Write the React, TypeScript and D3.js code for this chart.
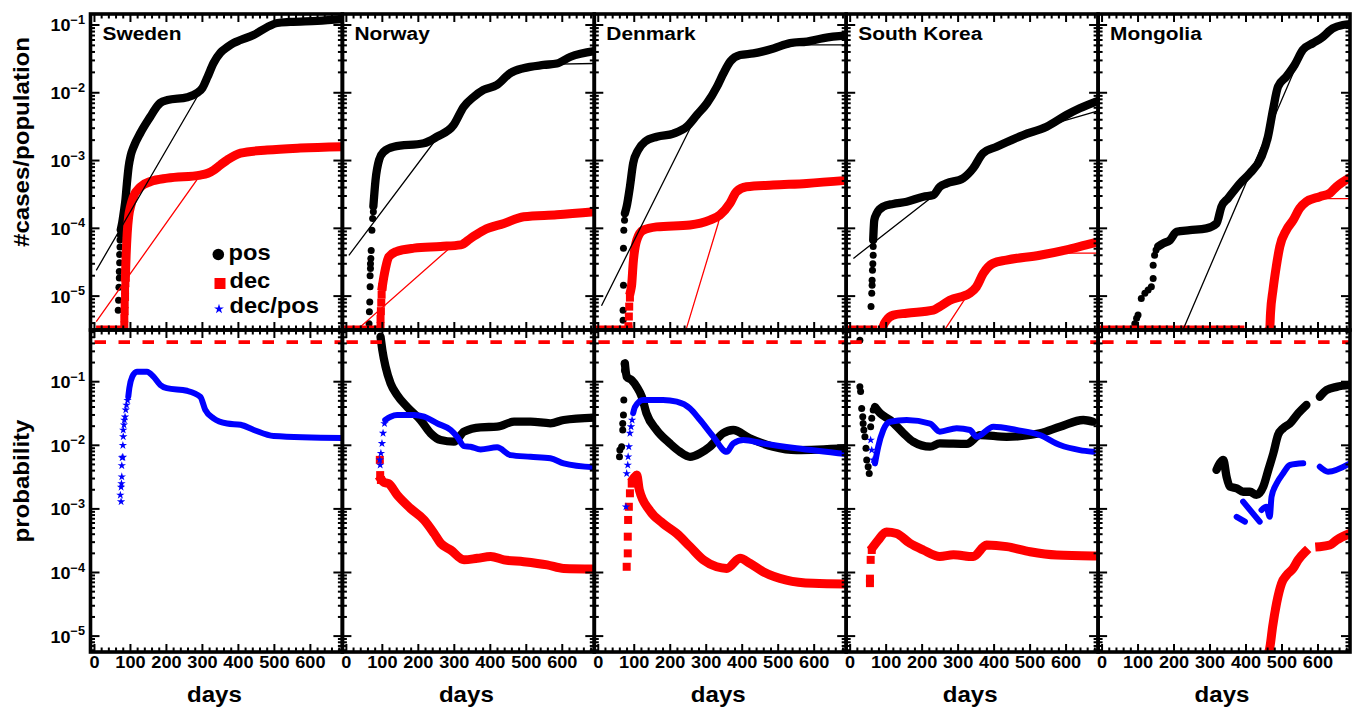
import React from 'react';
import * as d3 from 'd3';

type P = [number, number] | null;

// ---------------- labels / ticks ----------------
const countries = ['Sweden', 'Norway', 'Denmark', 'South Korea', 'Mongolia'];
const xTickValues = [0, 100, 200, 300, 400, 500, 600];
const yTopTickExps = [-1, -2, -3, -4, -5];
const yBotTickExps = [-1, -2, -3, -4, -5];
const legendLabels = ['pos', 'dec', 'dec/pos'];
const ratioLimit = 0.42;

// ---------------- Sweden ----------------
const swePosDots: P[] = [[66,6.2e-6],[67,8.7e-6],[68,1.35e-5],[69,1.85e-5],[69,2.3e-5],[70,3.1e-5],[70,4.1e-5],[71,5.3e-5],[71,6.7e-5],[72,8e-5]];
const swePosLine: P[] = [[73,9.5e-5],[77,1.2e-4],[82,1.8e-4],[86,2.6e-4],[90,4.5e-4],[95,8.1e-4],[101,1.2e-3],[109,1.6e-3],[128,2.57e-3],[156,4.5e-3],[174,6.3e-3],[183,7.1e-3],[203,7.8e-3],[258,8.6e-3],[286,1e-2],[300,1.18e-2],[314,1.7e-2],[331,2.75e-2],[350,3.9e-2],[369,4.7e-2],[386,5.4e-2],[406,6e-2],[442,7.1e-2],[480,9.3e-2],[508,0.107],[544,0.111],[619,0.115],[689,0.122]];
const swePosFit: P[] = [[5,2.4e-5],[290,9.6e-3],[314,1.65e-2],[350,3.8e-2],[406,5.9e-2],[480,9.1e-2],[544,0.109],[689,0.118]];
const sweDecDots: P[] = [[83,3.7e-6],[83,4.7e-6],[84,6e-6],[84,7.6e-6],[85,9.7e-6],[85,1.23e-5],[86,1.55e-5]];
const sweDecLine: P[] = [[17,0],[80,0],null,[86,1.9e-5],[88,4e-5],[91,8.5e-5],[95,1.5e-4],[100,2.06e-4],[108,2.9e-4],[128,4.1e-4],[156,4.9e-4],[203,5.5e-4],[294,6.1e-4],[315,6.5e-4],[331,7.2e-4],[350,8.6e-4],[369,1.02e-3],[406,1.29e-3],[480,1.43e-3],[572,1.53e-3],[689,1.6e-3]];
const sweDecFit: P[] = [[5,4.2e-6],[294,6.1e-4],[331,7.2e-4],[406,1.28e-3],[689,1.58e-3]];
const sweRatioDots: P[] = [[74,1.3e-3],[72,1.65e-3],[74,2.2e-3],[75,2.5e-3],[76,3.2e-3],[76,4.8e-3],[77,6.4e-3],[79,6.5e-3],[79,1e-2],[80,1.37e-2],[80,1.74e-2],[82,2.1e-2],[83,2.5e-2],[85,2.8e-2],[87,3.6e-2],[89,4.3e-2],[92,5.1e-2]];
const sweRatioLine: P[] = [[94,5.8e-2],[97,8e-2],[105,0.12],[118,0.144],[146,0.144],[164,0.12],[183,8.9e-2],[201,7.9e-2],[257,7.2e-2],[294,5.8e-2],[308,3.6e-2],[331,2.66e-2],[369,2.2e-2],[406,2.1e-2],[443,1.74e-2],[498,1.4e-2],[689,1.3e-2]];

// ---------------- Norway ----------------
const norPosDots: P[] = [[63,3.9e-6],[64,5.9e-6],[65,8.2e-6],[66,1.37e-5],[66,2e-5],[67,2.55e-5],[67,3e-5],[68,3.6e-5],[69,4.7e-5],[71,9.4e-5],[73,1.4e-4],[75,1.76e-4]];
const norPosLine: P[] = [[75,2.1e-4],[81,5.1e-4],[91,1.02e-3],[104,1.35e-3],[132,1.6e-3],[215,1.8e-3],[252,2.25e-3],[298,3.34e-3],[326,6.2e-3],[354,8.7e-3],[381,1.1e-2],[418,1.3e-2],[455,1.94e-2],[492,2.3e-2],[548,2.57e-2],[585,2.7e-2],[623,3.4e-2],[689,4.1e-2]];
const norPosFit: P[] = [[7,4e-5],[252,2.15e-3],[298,3.3e-3],[326,6e-3],[354,8.6e-3],[418,1.3e-2],[492,2.25e-2],[585,2.65e-2],[689,2.7e-2]];
const norDecDots: P[] = [[95,3.6e-6],[95,4.6e-6],[96,6e-6],[97,8e-6],[98,1.05e-5],[100,1.37e-5]];
const norDecLine: P[] = [[-2,0],[86,0],null,[100,1.4e-5],[104,1.9e-5],[109,2.6e-5],[118,3.8e-5],[137,4.5e-5],[188,5.1e-5],[262,5.4e-5],[318,5.7e-5],[345,7.1e-5],[382,9.4e-5],[438,1.18e-4],[493,1.48e-4],[585,1.58e-4],[689,1.75e-4]];
const norDecFit: P[] = [[30,3.2e-6],[285,5e-5],[318,5.7e-5],[345,7e-5],[382,9.3e-5],[438,1.17e-4],[493,1.45e-4],[689,1.65e-4]];
const norProbPosLine: P[] = [[95,0.51],[100,0.315],[109,0.172],[123,0.094],[141,0.062],[169,0.04],[206,0.025],[234,0.0155],[262,0.0121],[299,0.0114],[327,0.0164],[373,0.0192],[419,0.0196],[466,0.0235],[512,0.0235],[567,0.0222],[604,0.025],[689,0.0272]];
const norProbDecDots: P[] = [[93,5.9e-3],[94,3.4e-3],[96,2.85e-3]];
const norProbDecLine: P[] = [[97,2.9e-3],[105,2.6e-3],[117,2.5e-3],[141,1.66e-3],[178,1.02e-3],[216,6.7e-4],[244,4.1e-4],[262,2.88e-4],[290,2.26e-4],[327,1.58e-4],[364,1.67e-4],[401,1.78e-4],[438,1.58e-4],[493,1.48e-4],[558,1.32e-4],[604,1.16e-4],[689,1.14e-4]];
const norRatioDots: P[] = [[93,5.9e-3],[94,4.9e-3],[96,7.5e-3],[99,1.07e-2],[102,1.55e-2],[106,2.2e-2]];
const norRatioLine: P[] = [[108,2.5e-2],[123,2.82e-2],[141,3e-2],[188,3e-2],[216,2.82e-2],[253,2.2e-2],[290,1.74e-2],[308,1.36e-2],[327,9.7e-3],[345,9.5e-3],[373,8.6e-3],[419,9.3e-3],[456,7e-3],[512,6.6e-3],[567,6.25e-3],[604,5.2e-3],[689,4.5e-3]];

// ---------------- Denmark ----------------
const denPosDots: P[] = [[69,4.4e-6],[69,6.2e-6],[70,1.45e-5],[70,5.1e-5],[71,9.4e-5],[73,1.32e-4]];
const denPosLine: P[] = [[74,1.66e-4],[79,2.1e-4],[88,4.1e-4],[97,9.1e-4],[111,1.43e-3],[130,1.9e-3],[163,2.24e-3],[209,2.5e-3],[246,3.16e-3],[274,4.7e-3],[302,7e-3],[330,1.23e-2],[348,1.94e-2],[367,2.9e-2],[394,3.6e-2],[431,3.8e-2],[487,4.5e-2],[533,5.4e-2],[580,5.7e-2],[626,6.4e-2],[689,7e-2]];
const denPosFit: P[] = [[9,7.2e-6],[254,2.9e-3],[274,4.6e-3],[302,6.9e-3],[330,1.2e-2],[348,1.9e-2],[367,2.8e-2],[394,3.5e-2],[487,4.5e-2],[560,5.1e-2],[689,5.1e-2]];
const denDecDots: P[] = [[84,3.6e-6],[85,5e-6],[86,7e-6],[88,9.5e-6]];
const denDecLine: P[] = [[-4,0],[83,0],null,[90,1.2e-5],[93,1.5e-5],[97,3.04e-5],[107,6.7e-5],[125,9.4e-5],[162,1.05e-4],[255,1.12e-4],[310,1.32e-4],[338,1.57e-4],[366,2.34e-4],[384,3.47e-4],[412,4.1e-4],[486,4.35e-4],[579,4.6e-4],[689,5.1e-4]];
const denDecFit: P[] = [[244,3.2e-6],[333,1.17e-4],[338,1.5e-4],[366,2.3e-4],[384,3.4e-4],[412,4.05e-4],[689,4.9e-4]];
const denProbPosDots: P[] = [[59,6.6e-3],[60,8.4e-3],[65,9.5e-3],[68,1.74e-2],[68,2.2e-2],[70,3e-2],[71,5.15e-2],[72,0.19],[73,0.15]];
const denProbPosLine: P[] = [[74,0.195],[79,0.12],[93,0.106],[107,0.083],[121,0.058],[134,0.0318],[162,0.0174],[199,0.0107],[227,7.9e-3],[255,6.6e-3],[283,7.5e-3],[310,9.5e-3],[347,0.0155],[375,0.0174],[421,0.0129],[486,9.5e-3],[551,8.4e-3],[689,9e-3]];
const denProbDecDots: P[] = [[79,1.23e-4],[82,2e-4],[82,3.66e-4],[83,6.7e-4],[85,1.08e-3],[88,1.76e-3],[93,2.5e-3]];
const denProbDecLine: P[] = [[98,3e-3],[102,3.2e-3],[107,3.4e-3],[114,2e-3],[142,9.6e-4],[180,5.9e-4],[218,4.1e-4],[255,2.55e-4],[292,1.58e-4],[329,1.23e-4],[357,1.16e-4],[394,1.67e-4],[421,1.4e-4],[458,1.03e-4],[523,7.6e-5],[597,6.76e-5],[689,6.6e-5]];
const denRatioDots: P[] = [[77,1.08e-3],[79,3.6e-3],[82,4.9e-3],[83,6.6e-3],[85,9.5e-3],[88,1.55e-2],[91,1.96e-2],[94,2.5e-2]];
const denRatioLine: P[] = [[97,3.2e-2],[102,0.04],[125,0.0515],[180,0.0515],[218,0.0485],[255,0.038],[283,0.025],[320,0.0136],[357,7.9e-3],[375,0.0107],[403,0.0121],[458,0.0107],[551,9e-3],[689,7.3e-3]];

// ---------------- South Korea ----------------
const skPosDots: P[] = [[58,7e-6],[60,1.1e-5],[61,1.45e-5],[61,1.72e-5],[62,2.4e-5],[63,3e-5],[64,4e-5],[64,5.4e-5]];
const skPosLine: P[] = [[64,6.7e-5],[67,1.32e-4],[74,1.66e-4],[92,2.09e-4],[119,2.29e-4],[157,2.47e-4],[203,2.93e-4],[231,3.1e-4],[249,4.1e-4],[268,4.6e-4],[314,5.5e-4],[342,7.7e-4],[369,1.28e-3],[407,1.6e-3],[481,2.38e-3],[546,3.16e-3],[601,4.7e-3],[638,5.9e-3],[689,7.6e-3]];
const skPosFit: P[] = [[9,3.6e-5],[231,3e-4],[249,4e-4],[268,4.5e-4],[314,5.4e-4],[342,7.6e-4],[369,1.25e-3],[407,1.58e-3],[481,2.35e-3],[574,3.6e-3],[689,5.4e-3]];
const skDecDots: P[] = [];
const skDecLine: P[] = [[0,0],[63,0],null,[90,0],[92,3.6e-6],[101,4.4e-6],[120,5.25e-6],[157,5.6e-6],[231,6.2e-6],[249,7e-6],[277,8.7e-6],[332,1.1e-5],[351,1.37e-5],[370,2.16e-5],[397,3.04e-5],[434,3.4e-5],[527,4e-5],[601,4.8e-5],[656,5.7e-5],[689,6.3e-5]];
const skDecFit: P[] = [[263,3.2e-6],[323,9.8e-6],[332,1.08e-5],[351,1.35e-5],[370,2.1e-5],[397,3e-5],[434,3.35e-5],[527,3.9e-5],[601,4.3e-5],[689,4.3e-5]];
const skProbPosDots: P[] = [[27,0.45],[27,0.083],[29,0.07],[32,0.038],[35,0.028],[36,0.022],[38,0.0174],[41,0.0136],[44,9e-3],[46,5.9e-3],[50,4.6e-3],[53,3.6e-3],[57,0.0196],[60,0.0266],[64,0.036]];
const skProbPosLine: P[] = [[69,0.04],[83,0.032],[111,0.025],[148,0.0155],[175,0.0114],[222,9.5e-3],[249,0.0107],[324,0.0105],[361,0.0145],[435,0.0136],[527,0.0155],[583,0.0196],[648,0.025],[675,0.0235]];
const skProbDecDots: P[] = [[55,6.8e-5],[55,8e-5],[57,1.58e-4],[60,2.26e-4]];
const skProbDecLine: P[] = [[64,2.55e-4],[78,3.24e-4],[101,4.35e-4],[129,4.1e-4],[166,2.88e-4],[203,2.26e-4],[249,1.78e-4],[287,1.9e-4],[342,1.78e-4],[379,2.7e-4],[435,2.55e-4],[500,2.12e-4],[574,1.88e-4],[675,1.82e-4]];
const skRatioDots: P[] = [[57,0.0121],[60,8.4e-3],[64,5.9e-3]];
const skRatioLine: P[] = [[69,5.2e-3],[78,9.5e-3],[92,0.0174],[111,0.0235],[157,0.025],[222,0.022],[249,0.0164],[296,0.0185],[333,0.0174],[351,0.0136],[398,0.0196],[462,0.0174],[527,0.0145],[583,0.0101],[638,8.4e-3],[675,7.9e-3]];

// ---------------- Mongolia ----------------
const monPosDots: P[] = [[87,3.3e-6],[91,3.9e-6],[96,4.7e-6],[100,5.25e-6],[109,9.2e-6],[119,1.1e-5],[128,1.23e-5],[137,1.37e-5],[142,1.82e-5],[142,2.86e-5],[146,4e-5],[150,4.8e-5]];
const monPosLine: P[] = [[156,5.4e-5],[170,6e-5],[189,6.7e-5],[207,8.9e-5],[244,9.4e-5],[290,1e-4],[318,1.18e-4],[332,2.1e-4],[350,2.77e-4],[383,4.6e-4],[411,6.5e-4],[443,1.14e-3],[461,2.24e-3],[475,5.6e-3],[489,1.23e-2],[512,1.73e-2],[535,2.57e-2],[558,4.3e-2],[586,5.4e-2],[609,6.4e-2],[641,8.9e-2],[669,0.1],[689,0.103]];
const monPosFit: P[] = [[225,3.2e-6],[531,1.94e-2],[558,4.2e-2],[586,5.3e-2],[641,8.8e-2],[689,0.102]];
const monDecDots: P[] = [];
const monDecLine: P[] = [[3,0],[383,0],null,[464,0],[466,3.3e-6],[468,5.5e-6],[475,1.23e-5],[484,2.7e-5],[494,5.4e-5],[512,9.4e-5],[531,1.32e-4],[549,1.97e-4],[568,2.47e-4],[605,2.93e-4],[633,3.3e-4],[651,4.1e-4],[689,5.6e-4]];
const monDecFit: P[] = [[466,3.2e-6],[475,1.2e-5],[494,5.3e-5],[531,1.3e-4],[568,2.4e-4],[605,2.75e-4],[689,2.75e-4]];
const monProbPosLine: P[] = [[318,4.1e-3],[327,5.2e-3],[337,5.9e-3],[346,3.2e-3],[355,2.24e-3],[374,2.1e-3],[392,1.86e-3],[411,1.86e-3],[429,1.66e-3],[448,2.24e-3],[462,4.1e-3],[476,7.5e-3],[489,0.0145],[503,0.0185],[522,0.022],[545,0.0318],[568,0.043],null,[605,0.058],[624,0.074],[652,0.083],[689,0.089]];
const monProbDecLine: P[] = [[463,0],[466,6.5e-6],[474,1.41e-5],[485,3.3e-5],[499,6.8e-5],[513,9.1e-5],[531,1.16e-4],[545,1.58e-4],[564,2.1e-4],null,[605,2.55e-4],[633,2.7e-4],[652,3.24e-4],[689,4.1e-4]];
const monRatioLine: P[] = [[374,7.5e-4],[397,6.3e-4],null,[392,1.3e-3],[438,6.3e-4],null,[443,9.6e-4],[457,1.08e-3],[466,7.5e-4],[471,1.55e-3],[485,2.5e-3],[503,3.6e-3],[522,4.9e-3],[559,5.2e-3],null,[605,4.6e-3],[628,3.85e-3],[689,5.2e-3]];

// ---------------- tables built from the arrays ----------------
const topSeries = [
  { posDots: swePosDots, posLine: swePosLine, posFit: swePosFit, decDots: sweDecDots, decLine: sweDecLine, decFit: sweDecFit },
  { posDots: norPosDots, posLine: norPosLine, posFit: norPosFit, decDots: norDecDots, decLine: norDecLine, decFit: norDecFit },
  { posDots: denPosDots, posLine: denPosLine, posFit: denPosFit, decDots: denDecDots, decLine: denDecLine, decFit: denDecFit },
  { posDots: skPosDots, posLine: skPosLine, posFit: skPosFit, decDots: skDecDots, decLine: skDecLine, decFit: skDecFit },
  { posDots: monPosDots, posLine: monPosLine, posFit: monPosFit, decDots: monDecDots, decLine: monDecLine, decFit: monDecFit },
];
const botSeries = [
  { posDots: [] as P[], posLine: [] as P[], decDots: [] as P[], decLine: [] as P[], ratioDots: sweRatioDots, ratioLine: sweRatioLine },
  { posDots: [] as P[], posLine: norProbPosLine, decDots: norProbDecDots, decLine: norProbDecLine, ratioDots: norRatioDots, ratioLine: norRatioLine },
  { posDots: denProbPosDots, posLine: denProbPosLine, decDots: denProbDecDots, decLine: denProbDecLine, ratioDots: denRatioDots, ratioLine: denRatioLine },
  { posDots: skProbPosDots, posLine: skProbPosLine, decDots: skProbDecDots, decLine: skProbDecLine, ratioDots: skRatioDots, ratioLine: skRatioLine },
  { posDots: [] as P[], posLine: monProbPosLine, decDots: [] as P[], decLine: monProbDecLine, ratioDots: [] as P[], ratioLine: monRatioLine },
];

// ---------------- layout ----------------
const W = 1355, H = 711;
const L = 90.5, CW = 251.9;
const TOP0 = 14, MID = 330, BOT = 652;
const FONT = '"Liberation Sans", Arial, Helvetica, sans-serif';
const xDomain: [number, number] = [-11, 689];
const yTop = d3.scaleLog().domain([Math.pow(10, -5.5), Math.pow(10, -0.838)]).range([MID, TOP0]);
const yBot = d3.scaleLog().domain([Math.pow(10, -5.25), Math.pow(10, -0.187)]).range([BOT, MID]);

function Txt(props: { x: number; y: number; size: number; anchor?: string; sx?: number; rotate?: number; fill?: string; children: any }) {
  const { x, y, size, anchor = 'start', sx = 1.12, rotate = 0, fill = '#000', children } = props;
  const tf = `translate(${x},${y})${rotate ? ` rotate(${rotate})` : ''} scale(${sx},1)`;
  return (
    <text transform={tf} fontSize={size} fontWeight="bold" fontFamily={FONT} textAnchor={anchor as any} fill={fill}>
      {children}
    </text>
  );
}

function logTicks(dom: number[]) {
  const [a, b] = dom;
  const out: { v: number; major: boolean }[] = [];
  for (let e = Math.floor(Math.log10(a)); e <= Math.ceil(Math.log10(b)); e++) {
    for (let m = 1; m <= 9; m++) {
      const v = m * Math.pow(10, e);
      if (v >= a && v <= b) out.push({ v, major: m === 1 });
    }
  }
  return out;
}

const starPath = d3.symbol().type(d3.symbolStar).size(22)() as string;
const dotR = 3.5;
const sq = 8;

function Panel({ col, row }: { col: number; row: number }) {
  const x0 = L + col * CW;
  const x1 = x0 + CW;
  const x = d3.scaleLinear().domain(xDomain).range([x0, x1]);
  const y = row === 0 ? yTop : yBot;
  const [yb, yt] = y.range();
  const ymin = y.domain()[0];
  const yv = (v: number) => y(v > 0 ? v : ymin);
  const line = d3.line<P>().defined((p) => p !== null).x((p) => x(p![0])).y((p) => yv(p![1]));
  const smooth = d3.line<P>().defined((p) => p !== null).x((p) => x(p![0])).y((p) => yv(p![1])).curve(d3.curveMonotoneX);
  const clipId = `clip-${row}-${col}`;

  const dots = (arr: P[], kind: 'pos' | 'dec' | 'ratio') =>
    arr.filter((p) => p !== null).map((p, k) => {
      const cx = x(p![0]);
      const cy = yv(p![1]);
      if (kind === 'pos') return <circle key={k} cx={cx} cy={cy} r={dotR} fill="#000" />;
      if (kind === 'dec') return <rect key={k} x={cx - sq / 2} y={cy - sq / 2} width={sq} height={sq} fill="#ff0000" />;
      return <path key={k} d={starPath} transform={`translate(${cx},${cy})`} fill="#0000ff" />;
    });

  const thick = (arr: P[], color: string, w: number, cap: string) =>
    arr.length ? (
      <path d={smooth(arr) || ''} fill="none" stroke={color} strokeWidth={w} strokeLinecap={cap as any} strokeLinejoin="round" />
    ) : null;

  let content: any;
  if (row === 0) {
    const s = topSeries[col];
    content = (
      <g>
        {dots(s.posDots, 'pos')}
        {thick(s.posLine, '#000', 8.3, 'round')}
        {dots(s.decDots, 'dec')}
        {thick(s.decLine, '#ff0000', 9, 'square')}
        <path d={line(s.posFit) || ''} fill="none" stroke="#000" strokeWidth={1.3} />
        <path d={line(s.decFit) || ''} fill="none" stroke="#ff0000" strokeWidth={1.3} />
      </g>
    );
  } else {
    const s = botSeries[col];
    content = (
      <g>
        {dots(s.posDots, 'pos')}
        {thick(s.posLine, '#000', 8.3, 'round')}
        {dots(s.decDots, 'dec')}
        {thick(s.decLine, '#ff0000', 9, 'square')}
        {dots(s.ratioDots, 'ratio')}
        {thick(s.ratioLine, '#0000ff', 6, 'round')}
        <line x1={x0} x2={x1} y1={y(ratioLimit)} y2={y(ratioLimit)} stroke="#ff0000" strokeWidth={3.8} strokeDasharray="11.5 12.5" strokeDashoffset={20} />
      </g>
    );
  }

  const yt2 = logTicks(y.domain());
  const xt: { v: number; major: boolean }[] = [];
  for (let t = 0; t <= xDomain[1]; t += 20) xt.push({ v: t, major: t % 100 === 0 });

  return (
    <g>
      <defs>
        <clipPath id={clipId}>
          <rect x={x0} y={yt} width={CW} height={yb - yt} />
        </clipPath>
      </defs>
      <g clipPath={`url(#${clipId})`}>{content}</g>
      <g stroke="#000" strokeWidth={2}>
        {yt2.map((t, k) => {
          const len = t.major ? 9 : 4.5;
          const yy = y(t.v);
          return (
            <g key={k}>
              <line x1={x0} x2={x0 + len} y1={yy} y2={yy} />
              <line x1={x1} x2={x1 - len} y1={yy} y2={yy} />
            </g>
          );
        })}
        {xt.map((t, k) => {
          const len = t.major ? 8 : 4.5;
          const xx = x(t.v);
          return (
            <g key={k}>
              <line x1={xx} x2={xx} y1={yb} y2={yb - len} />
              <line x1={xx} x2={xx} y1={yt} y2={yt + len} />
            </g>
          );
        })}
      </g>
      <rect x={x0} y={yt} width={CW} height={yb - yt} fill="none" stroke="#000" strokeWidth={3.6} />
      {row === 0 && (
        <Txt x={x0 + 12} y={40} size={18.5} sx={1.13}>
          {countries[col]}
        </Txt>
      )}
      {row === 1 &&
        xTickValues.map((t) => (
          <Txt key={t} x={x(t)} y={668} size={16.5} anchor="middle" sx={1.1}>
            {String(t)}
          </Txt>
        ))}
      {row === 1 && (
        <Txt x={x0 + CW / 2 - 2} y={702} size={21.5} anchor="middle" sx={1.12}>
          days
        </Txt>
      )}
    </g>
  );
}

function YLabels({ scale, exps }: { scale: any; exps: number[] }) {
  return (
    <g>
      {exps.map((e) => (
        <text key={e} transform={`translate(85,${scale(Math.pow(10, e)) + 6.5}) scale(1.06,1)`} textAnchor="end" fontFamily={FONT} fontWeight="bold" fontSize={17}>
          <tspan>10</tspan>
          <tspan dy={-7.5} fontSize={12}>{`\u2212${-e}`}</tspan>
        </text>
      ))}
    </g>
  );
}

export default function App() {
  const cols = [0, 1, 2, 3, 4];
  return (
    <svg width={W} height={H} viewBox={`0 0 ${W} ${H}`} style={{ position: 'absolute', left: 0, top: 0, background: '#fff' }}>
      <rect x={0} y={0} width={W} height={H} fill="#fff" />
      {cols.map((c) => (
        <Panel key={`t${c}`} col={c} row={0} />
      ))}
      {cols.map((c) => (
        <Panel key={`b${c}`} col={c} row={1} />
      ))}
      <YLabels scale={yTop} exps={yTopTickExps} />
      <YLabels scale={yBot} exps={yBotTickExps} />
      <Txt x={29} y={142} size={21.5} anchor="middle" rotate={-90} sx={1.12}>
        #cases/population
      </Txt>
      <Txt x={29} y={481} size={21.5} anchor="middle" rotate={-90} sx={1.12}>
        probability
      </Txt>
      <g>
        <circle cx={218.3} cy={254.5} r={5.8} fill="#000" />
        <rect x={214.5} y={278} width={11} height={11} fill="#ff0000" />
        <path d={d3.symbol().type(d3.symbolStar).size(30)() as string} transform="translate(219,309)" fill="#0000ff" />
        <Txt x={228.5} y={260} size={21.5} sx={1.1}>{legendLabels[0]}</Txt>
        <Txt x={229.5} y={287.5} size={21.5} sx={1.1}>{legendLabels[1]}</Txt>
        <Txt x={229.5} y={313} size={21.5} sx={1.1}>{legendLabels[2]}</Txt>
      </g>
    </svg>
  );
}
